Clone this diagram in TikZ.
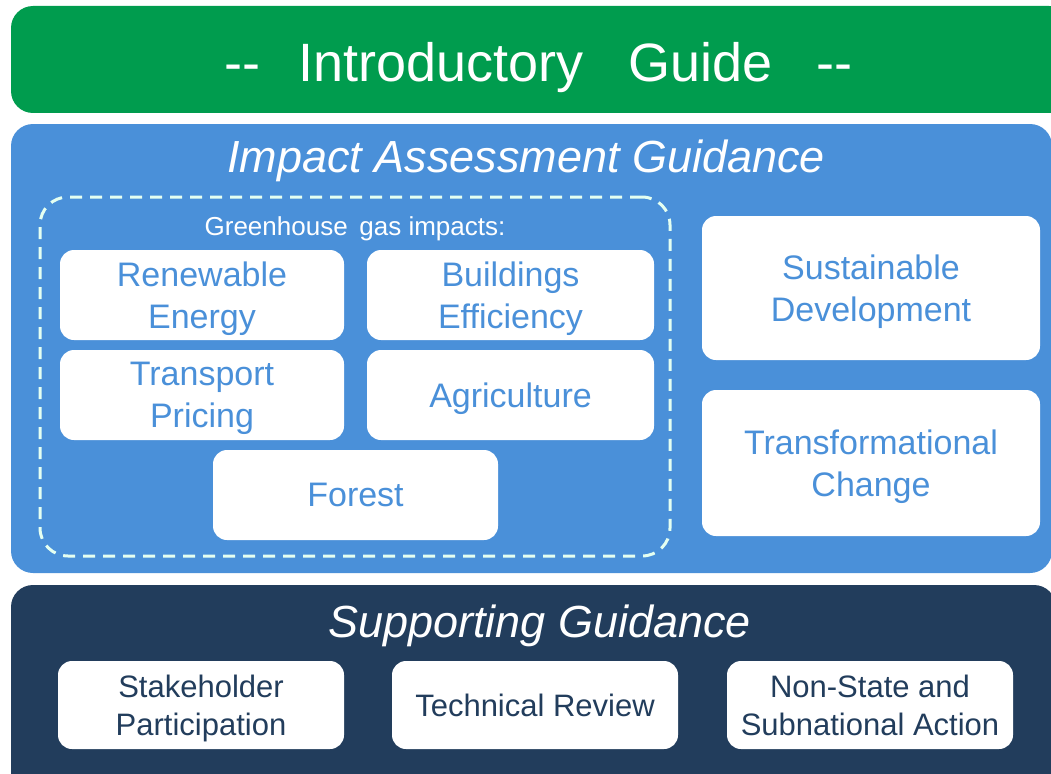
\documentclass[tikz,border=0pt]{standalone}
\usepackage{fontspec}
\setmainfont{Liberation Sans}
\definecolor{igreen}{HTML}{009C4E}
\definecolor{iblue}{HTML}{4A90D9}
\definecolor{inavy}{HTML}{223D5C}
\definecolor{imint}{HTML}{E4FFF1}
\tikzset{
  panel/.style={rounded corners=22pt, inner sep=0pt},
  wbox/.style={fill=white, rounded corners=14pt, align=center, inner sep=0pt, text=iblue,
    text depth=0pt, font=\fontsize{34}{42}\selectfont},
  sbox/.style={fill=white, rounded corners=14pt, align=center, inner sep=0pt, text=inavy,
    text depth=0pt, font=\fontsize{31}{38}\selectfont, minimum width=286pt, minimum height=88pt},
  ttl/.style={text=white, inner sep=0pt, text depth=0pt, font=\fontsize{45}{50}\selectfont\itshape},
}
\begin{document}
\begin{tikzpicture}[x=1pt,y=-1pt]
\useasboundingbox (0,0) rectangle (1051,773);
% panels
\node[panel, fill=igreen, minimum width=1060pt, minimum height=107pt] (green) at (541,59.5) {};
\node[panel, fill=iblue, minimum width=1041pt, minimum height=449pt] (blue) at (531.5,348.5) {};
\node[panel, fill=inavy, minimum width=1045pt, minimum height=210pt] (navy) at (533.5,690) {};
% titles
\node[text=white, inner sep=0pt, text depth=0pt, font=\fontsize{54}{60}\selectfont] (intro) at (538.5,61.5)
  {-\kern0pt-\hspace{38pt}Introductory\hspace{45pt}Guide\hspace{44pt}-\kern0pt-};
\node[ttl] (iag) at (526,156) {Impact Assessment Guidance};
\node[ttl] (sg) at (539.5,621) {Supporting Guidance};
% dashed group
\node[draw=imint, line width=3pt, dash pattern=on 12pt off 8pt, rounded corners=28pt,
  minimum width=630pt, minimum height=359pt, inner sep=0pt] (ghg) at (355,376.5) {};
\node[text=white, inner sep=0pt, text depth=0pt, font=\fontsize{26}{30}\selectfont] (ghgl) at (355,226)
  {Greenhouse\hspace{0.45em}gas impacts:};
% GHG boxes
\node[wbox, minimum width=284pt, minimum height=90pt] (re) at (202,295) {Renewable\\Energy};
\node[wbox, minimum width=287pt, minimum height=90pt] (be) at (510.5,295) {Buildings\\Efficiency};
\node[wbox, minimum width=284pt, minimum height=90pt] (tp) at (202,395) {Transport\\Pricing};
\node[wbox, minimum width=287pt, minimum height=90pt] (ag) at (510.5,395) {Agriculture};
\node[wbox, minimum width=285pt, minimum height=90pt] (fo) at (355.5,495) {Forest};
% right boxes
\node[wbox, minimum width=338pt, minimum height=144pt] (sd) at (871,288) {Sustainable\\Development};
\node[wbox, minimum width=338pt, minimum height=146pt] (tc) at (871,463) {Transformational\\Change};
% supporting boxes
\node[sbox] (sp) at (201,705) {Stakeholder\\Participation};
\node[sbox] (tr) at (535,705) {Technical Review};
\node[sbox] (ns) at (870,705) {Non-State and\\Subnational Action};
\end{tikzpicture}
\end{document}
